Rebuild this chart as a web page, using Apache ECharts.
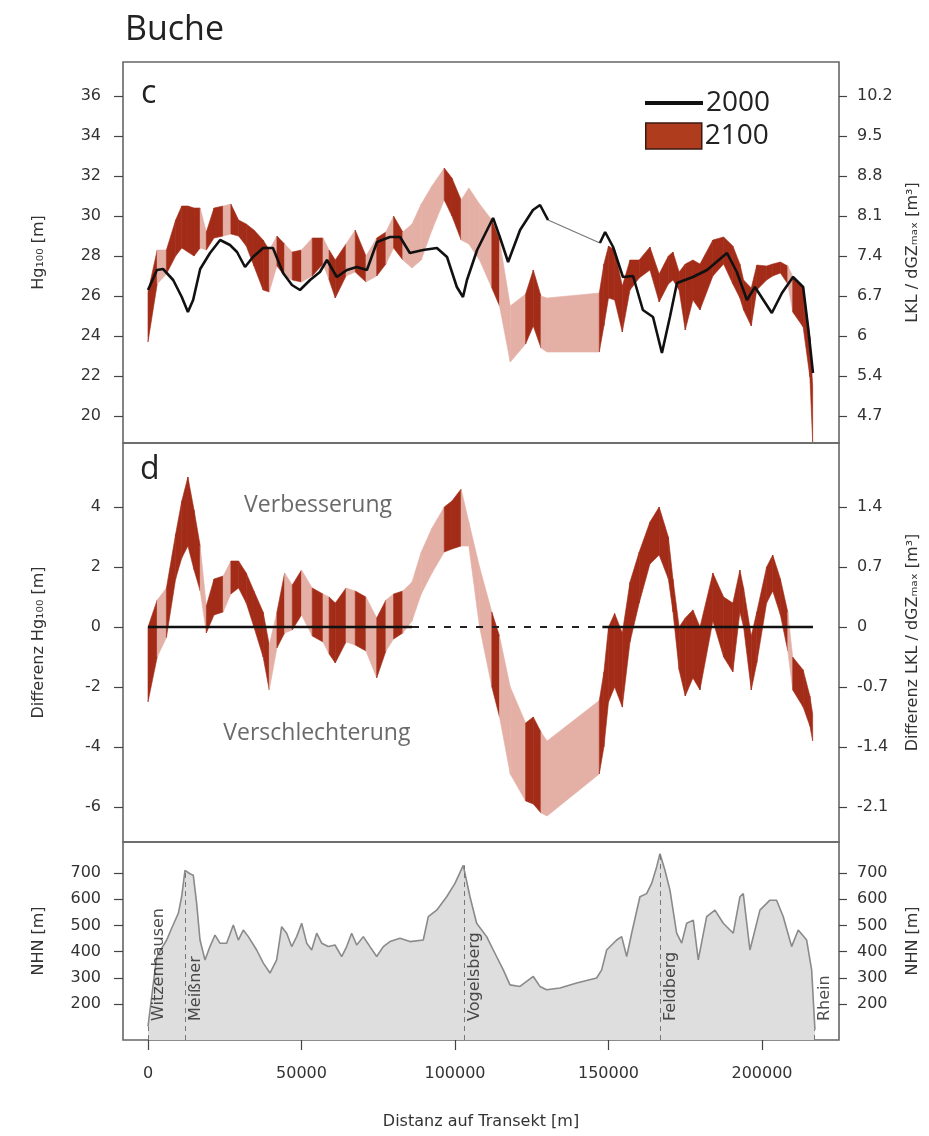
<!DOCTYPE html>
<html>
<head>
<meta charset="utf-8">
<script src="https://cdn.jsdelivr.net/npm/echarts@6.0.0/dist/echarts.min.js"></script>
<style>
html, body { margin: 0; padding: 0; background: #fff; }
#main { width: 929px; height: 1136px; }
</style>
</head>
<body>
<div id="main"></div>
<script>
// Transekt Buche: Hg100 2000 vs 2100, Differenz, Höhenprofil

// x positions of the 2100 band (m along transect)
var bandX = [0, 3000, 6000, 9000, 11000, 13000, 15000, 17000, 19000, 21500,
  24500, 27000, 29500, 32000, 34500, 37500, 39500, 42000, 44500, 47000,
  50000, 53500, 57000, 59000, 61000, 64500, 67500, 71000, 74500, 77500,
  80000, 83000, 86000, 89000, 92500, 96500, 99000, 102000, 104500, 108000,
  112000, 114500, 118000, 123000, 125500, 128000, 130000, 147000, 148500, 150000,
  152000, 154500, 157000, 160000, 163500, 166500, 169500, 171000, 173000, 175000,
  177500, 179800, 184000, 187500, 190500, 192800, 194000, 196500, 198300, 201500,
  203500, 206000, 208400, 210000, 213400, 215600, 216500];
// 1 = dark segment, 0 = light segment (segment starts at bandX[i])
var bandDark = [1, 0, 1, 1, 1, 1, 1, 0, 1, 1,
  0, 1, 1, 1, 1, 1, 0, 1, 0, 1,
  0, 1, 0, 1, 1, 0, 1, 0, 1, 0,
  1, 0, 0, 0, 0, 1, 1, 0, 0, 0,
  1, 0, 0, 1, 1, 0, 0, 1, 1, 1,
  1, 1, 1, 1, 1, 1, 1, 1, 1, 1,
  1, 1, 1, 1, 1, 1, 1, 1, 1, 1,
  1, 1, 0, 1, 1, 1, 1];
// panel c: Hg100 2100 range
var cLow = [23.7, 26.6, 27.1, 28.0, 28.4, 28.2, 28.0, 28.4, 28.3, 28.9,
  29.0, 29.1, 29.0, 28.5, 27.5, 26.3, 26.2, 27.5, 27.0, 26.8,
  26.7, 27.0, 27.6, 26.8, 25.9, 27.0, 27.2, 26.7, 27.0, 27.6,
  28.4, 27.8, 27.4, 27.8, 29.3, 30.8, 30.0, 28.8, 28.6, 27.8,
  26.4, 25.5, 22.7, 23.6, 24.5, 23.4, 23.2, 23.2, 24.5, 25.9,
  25.8, 24.2, 26.3, 26.9, 27.3, 25.7, 26.6, 26.8, 26.3, 24.3,
  25.8, 25.3, 27.0, 27.6, 26.6, 25.9, 25.3, 24.5, 26.3, 26.8,
  27.0, 27.15, 26.6, 25.2, 24.45, 21.95, 18.7];
var cHigh = [26.2, 28.3, 28.3, 29.8, 30.5, 30.5, 30.4, 30.4, 29.2, 30.4,
  30.5, 30.6, 29.8, 29.6, 29.3, 28.8, 28.3, 29.0, 28.6, 28.2,
  28.3, 28.9, 28.9, 28.3, 27.8, 28.6, 29.3, 28.0, 28.9, 29.2,
  30.0, 29.2, 29.6, 30.6, 31.5, 32.4, 31.9, 30.8, 31.4, 30.6,
  29.8, 28.8, 25.5, 26.1, 27.3, 26.0, 25.9, 26.15, 27.6, 28.5,
  28.3, 26.5, 27.8, 27.8, 28.45, 27.1, 28.0, 28.2, 27.2, 27.6,
  27.8, 27.6, 28.8, 28.95, 28.5, 27.6, 26.8, 26.4, 27.55, 27.5,
  27.6, 27.7, 27.5, 27.0, 26.45, 23.95, 21.5];
// panel d: Differenz 2100 - 2000
var dLow = [-2.5, -1.0, -0.35, 1.6, 2.3, 2.7, 1.9, 1.2, -0.2, 0.4,
  0.5, 1.1, 1.3, 0.8, 0.0, -1.0, -2.1, -0.7, -0.2, -0.1,
  0.4, -0.3, -0.5, -0.9, -1.2, -0.5, -0.6, -0.8, -1.7, -0.8,
  -0.4, -0.2, 0.2, 1.1, 1.8, 2.5, 2.6, 2.7, 2.7, 0.0,
  -2.0, -3.0, -4.9, -5.8, -5.9, -6.2, -6.3, -4.9, -4.0, -2.5,
  -2.0, -2.67, -0.5, 0.8, 2.1, 2.4, 1.6, 0.5, -1.43, -2.3,
  -1.7, -2.1, 0.2, -1.0, -1.5, 0.5, 0.0, -2.1, -1.2, 0.8,
  1.2, 0.4, -0.8, -2.1, -2.67, -3.3, -3.8];
var dHigh = [0.0, 0.9, 1.3, 3.1, 4.2, 5.0, 3.9, 2.7, 0.7, 1.6,
  1.7, 2.2, 2.2, 1.8, 1.2, 0.5, -0.6, 0.5, 1.8, 1.4,
  1.9, 1.3, 1.1, 1.0, 0.8, 1.3, 1.2, 1.0, 0.3, 0.9,
  1.1, 1.2, 1.5, 2.5, 3.3, 4.0, 4.2, 4.6, 3.5, 2.0,
  0.5, -0.3, -2.0, -3.2, -3.0, -3.5, -3.8, -2.45, -1.5, 0.0,
  0.45, -0.2, 1.5, 2.5, 3.5, 4.0, 3.0, 1.6, 0.0, 0.3,
  0.57, 0.0, 1.8, 1.0, 0.8, 1.9, 1.3, -0.3, 0.5, 2.0,
  2.4, 1.6, 0.5, -1.0, -1.43, -2.3, -2.9];

// panel c: Hg100 2000 (null = gap)
var line2000X = [0, 2900, 4900, 8200, 11000, 13000, 14700, 17000, 20200, 23500,
  26700, 29000, 31600, 34200, 37500, 40700, 44000, 46900, 49500, 52800,
  56000, 58300, 61500, 64800, 68000, 71300, 74600, 78800, 82100, 85300,
  89600, 94100, 97400, 100600, 102600, 103900, 107200, 112400, 114600, 117300,
  121200, 125400, 127700, 130300, 138000, 147200, 148900, 151500, 154700, 158000,
  161200, 164500, 167400, 170000, 172300, 177500, 182100, 188600, 191800, 195100,
  197700, 203200, 206500, 210100, 213400, 215000, 216600];
var line2000Y = [26.3, 27.3, 27.35, 26.8, 25.95, 25.2, 25.8, 27.35, 28.15, 28.8,
  28.55, 28.2, 27.45, 27.95, 28.4, 28.4, 27.15, 26.55, 26.3, 26.8,
  27.2, 27.8, 26.95, 27.3, 27.45, 27.3, 28.7, 28.95, 28.95, 28.15,
  28.3, 28.4, 27.95, 26.45, 25.95, 26.8, 28.3, 29.9, 28.95, 27.7,
  29.3, 30.3, 30.55, 29.8, null, 28.65, 29.2, 28.45, 26.95, 27.0,
  25.3, 24.95, 23.15, 24.95, 26.65, 26.95, 27.3, 28.15, 27.2, 25.8,
  26.45, 25.15, 26.15, 26.95, 26.45, 24.45, 22.15];
var gapX = [130300, 147200];
var gapY = [29.8, 28.65];

// panel d: reference line at 0
var zeroSolidX = [0, 86000, 117000, 148000, 216600];
var zeroSolidY = [0, 0, null, 0, 0];
var zeroDashX = [86000, 148000];
var zeroDashY = [0, 0];

// panel e: elevation profile (m NHN)
var elevX = [0, 2830, 6080, 7710, 9880, 10960, 12050, 13680, 14760, 15850,
  16940, 18560, 20190, 21820, 23450, 25620, 27790, 29420, 31050, 32680,
  35400, 37570, 39740, 41910, 43540, 45170, 46800, 48430, 50060, 51690,
  53320, 54950, 56580, 58740, 60910, 63090, 64720, 66340, 67970, 70140,
  72310, 74490, 76640, 78820, 82080, 85330, 89670, 91300, 94030, 97290,
  99990, 102690, 104880, 107050, 110310, 112470, 115730, 117910, 121160, 125500,
  127670, 129840, 134190, 139620, 146140, 147770, 149400, 152660, 154290, 155920,
  157540, 160240, 162420, 164050, 165680, 166760, 168390, 170020, 172200, 173830,
  175460, 177610, 179240, 181970, 184670, 187380, 190640, 192810, 193900, 196070,
  199330, 202580, 204760, 206930, 209650, 211810, 214540, 216170, 217240];
var elevY = [115, 381, 444, 489, 546, 609, 710, 697, 691, 584,
  444, 368, 419, 463, 432, 432, 501, 444, 482, 457,
  406, 356, 318, 368, 495, 470, 419, 457, 508, 432,
  406, 470, 432, 419, 425, 381, 419, 470, 425, 457,
  419, 381, 419, 438, 451, 438, 444, 533, 558, 609,
  660, 729, 609, 508, 457, 406, 330, 273, 267, 305,
  267, 254, 261, 280, 299, 330, 406, 444, 457, 381,
  470, 609, 621, 660, 723, 773, 710, 634, 470, 432,
  508, 520, 368, 533, 558, 508, 470, 609, 621, 406,
  558, 596, 596, 533, 419, 482, 444, 330, 102];

var placeNames = ['Witzenhausen', 'Meißner', 'Vogelsberg', 'Feldberg', 'Rhein'];
var placeX = [0, 12000, 103000, 166800, 216900];
var placeElev = [115, 710, 729, 773, 102];

var noteText = ['Verbesserung', 'Verschlechterung'];
var noteX = [55400, 55000];
var noteY = [4.05, -3.55];

// ticks
var xTicks = [0, 50000, 100000, 150000, 200000];
var cTicks = [20, 22, 24, 26, 28, 30, 32, 34, 36];
var cRightLabels = ['4.7', '5.4', '6', '6.7', '7.4', '8.1', '8.8', '9.5', '10.2'];
var dTicks = [-6, -4, -2, 0, 2, 4];
var dRightLabels = ['-2.1', '-1.4', '-0.7', '0', '0.7', '1.4'];
var eTicks = [200, 300, 400, 500, 600, 700];

var DARK = '#a22c17';
var LIGHT = '#e4b0a6';
var FONT = 'DejaVu Sans';
var X_MIN = -8143, X_MAX = 225081;

function pairs(xs, ys) {
  var d = [];
  for (var i = 0; i < xs.length; i++) {
    d.push([xs[i], ys[i] === null ? '-' : ys[i]]);
  }
  return d;
}

function bandSegments(lo, hi) {
  var d = [];
  for (var i = 0; i < bandX.length - 1; i++) {
    d.push([bandX[i], lo[i], hi[i], bandX[i + 1], lo[i + 1], hi[i + 1], bandDark[i]]);
  }
  return d;
}

function renderBand(params, api) {
  var a = api.coord([api.value(0), api.value(1)]);
  var b = api.coord([api.value(3), api.value(4)]);
  var c = api.coord([api.value(3), api.value(5)]);
  var d = api.coord([api.value(0), api.value(2)]);
  var col = api.value(6) ? DARK : LIGHT;
  return {
    type: 'polygon',
    shape: { points: [a, b, c, d] },
    style: { fill: col, stroke: col, lineWidth: 0.6 }
  };
}

function yAxisLeft(grid, min, max, ticks, name) {
  return {
    type: 'value', gridIndex: grid, position: 'left', min: min, max: max,
    axisLine: { show: false, onZero: false },
    axisTick: { show: true, length: 9, customValues: ticks, lineStyle: { color: '#444', width: 1.2 } },
    axisLabel: { customValues: ticks, margin: 22, fontSize: 16, fontFamily: FONT, color: '#333' },
    splitLine: { show: false },
    name: name, nameLocation: 'middle', nameGap: 76, nameRotate: 90,
    nameTextStyle: { fontSize: 16, fontFamily: FONT, color: '#333' }
  };
}

function yAxisRight(grid, min, max, ticks, labels, name) {
  return {
    type: 'value', gridIndex: grid, position: 'right', min: min, max: max,
    axisLine: { show: false, onZero: false },
    axisTick: { show: true, length: 8, customValues: ticks, lineStyle: { color: '#444', width: 1.2 } },
    axisLabel: {
      customValues: ticks, margin: 18, fontSize: 16, fontFamily: FONT, color: '#333',
      formatter: function (v) { return labels ? labels[ticks.indexOf(v)] : String(v); }
    },
    splitLine: { show: false },
    name: name, nameLocation: 'middle', nameGap: 66, nameRotate: 90,
    nameTextStyle: { fontSize: 16, fontFamily: FONT, color: '#333' }
  };
}

var chart = echarts.init(document.getElementById('main'), null, { renderer: 'canvas' });

var gridBase = { left: 123, right: 90, show: true, borderColor: '#666', borderWidth: 1.6, backgroundColor: 'transparent' };

var option = {
  animation: false,
  backgroundColor: '#fff',
  title: [
    { text: 'Buche', left: 120, top: 8, textStyle: { fontFamily: 'Open Sans', fontSize: 34, fontWeight: 'normal', color: '#222' } },
    { text: 'c', left: 136, top: 73, textStyle: { fontFamily: 'Open Sans', fontSize: 32, fontWeight: 'normal', color: '#222' } },
    { text: 'd', left: 135, top: 449, textStyle: { fontFamily: 'Open Sans', fontSize: 32, fontWeight: 'normal', color: '#222' } }
  ],
  legend: [
    {
      data: [{ name: '2000', icon: 'path://M0,0L60,0L60,4L0,4Z' }],
      left: 640, top: 84, itemWidth: 58, itemHeight: 4, itemGap: 0, selectedMode: false,
      textStyle: { fontFamily: 'Open Sans', fontSize: 28, color: '#222', padding: [0, 0, 0, -2] }
    },
    {
      data: [{ name: '2100', icon: 'rect', itemStyle: { color: '#b03c1e', borderColor: '#3a1a10', borderWidth: 1.5 } }],
      left: 640, top: 117, itemWidth: 56, itemHeight: 26, itemGap: 0, selectedMode: false,
      textStyle: { fontFamily: 'Open Sans', fontSize: 28, color: '#222', padding: [0, 0, 0, -2] }
    }
  ],
  grid: [
    Object.assign({}, gridBase, { top: 62, height: 381 }),
    Object.assign({}, gridBase, { top: 443, height: 399 }),
    Object.assign({}, gridBase, { top: 842, height: 198 })
  ],
  xAxis: [
    { type: 'value', gridIndex: 0, min: X_MIN, max: X_MAX, show: false },
    { type: 'value', gridIndex: 1, min: X_MIN, max: X_MAX, show: false },
    {
      type: 'value', gridIndex: 2, min: X_MIN, max: X_MAX,
      axisLine: { show: false, onZero: false },
      axisTick: { show: true, length: 10, customValues: xTicks, lineStyle: { color: '#444', width: 1.2 } },
      axisLabel: {
        customValues: xTicks, margin: 26, fontSize: 16, fontFamily: FONT, color: '#333',
        formatter: function (v) { return String(v); }
      },
      splitLine: { show: false },
      name: 'Distanz auf Transekt [m]', nameLocation: 'middle', nameGap: 74,
      nameTextStyle: { fontSize: 16, fontFamily: FONT, color: '#333' }
    }
  ],
  yAxis: [
    yAxisLeft(0, 18.65, 37.7, cTicks, 'Hg₁₀₀ [m]'),
    yAxisRight(0, 18.65, 37.7, cTicks, cRightLabels, 'LKL / dGZₘₐₓ [m³]'),
    yAxisLeft(1, -7.167, 6.133, dTicks, 'Differenz Hg₁₀₀ [m]'),
    yAxisRight(1, -7.167, 6.133, dTicks, dRightLabels, 'Differenz LKL / dGZₘₐₓ [m³]'),
    yAxisLeft(2, 62.6, 818, eTicks, 'NHN [m]'),
    yAxisRight(2, 62.6, 818, eTicks, null, 'NHN [m]')
  ],
  series: [
    {
      name: '2100', type: 'custom', xAxisIndex: 0, yAxisIndex: 0,
      itemStyle: { color: '#b03c1e' },
      renderItem: renderBand, data: bandSegments(cLow, cHigh),
      encode: { x: [0, 3], y: [1, 2, 4, 5] }, z: 2, silent: true
    },
    {
      name: '2000', type: 'line', xAxisIndex: 0, yAxisIndex: 0,
      data: pairs(line2000X, line2000Y), showSymbol: false, connectNulls: false,
      itemStyle: { color: '#111' }, lineStyle: { color: '#111', width: 2.6 }, z: 4, silent: true
    },
    {
      name: 'gap2000', type: 'line', xAxisIndex: 0, yAxisIndex: 0,
      data: pairs(gapX, gapY), showSymbol: false,
      lineStyle: { color: '#777', width: 1.2 }, z: 3, silent: true
    },
    {
      name: 'diff', type: 'custom', xAxisIndex: 1, yAxisIndex: 2,
      renderItem: renderBand, data: bandSegments(dLow, dHigh),
      encode: { x: [0, 3], y: [1, 2, 4, 5] }, z: 2, silent: true
    },
    {
      name: 'zero', type: 'line', xAxisIndex: 1, yAxisIndex: 2,
      data: pairs(zeroSolidX, zeroSolidY), showSymbol: false, connectNulls: false,
      lineStyle: { color: '#111', width: 2.6 }, z: 4, silent: true
    },
    {
      name: 'zeroDash', type: 'line', xAxisIndex: 1, yAxisIndex: 2,
      data: pairs(zeroDashX, zeroDashY), showSymbol: false,
      lineStyle: { color: '#222', width: 2, type: [7, 9] }, z: 4, silent: true
    },
    {
      name: 'notes', type: 'scatter', xAxisIndex: 1, yAxisIndex: 2, symbolSize: 0, silent: true, z: 6,
      data: noteText.map(function (t, i) { return { name: t, value: [noteX[i], noteY[i]] }; }),
      label: {
        show: true, position: 'inside', formatter: '{b}',
        fontFamily: 'Open Sans', fontSize: 23, color: '#444'
      }
    },
    {
      name: 'NHN', type: 'line', xAxisIndex: 2, yAxisIndex: 4,
      data: pairs(elevX, elevY), showSymbol: false, z: 2,
      lineStyle: { color: '#8a8a8a', width: 1.6 },
      areaStyle: { color: '#dedede', opacity: 1, origin: 'start' }, silent: true,
      markLine: {
        silent: true, symbol: 'none', animation: false,
        lineStyle: { type: [5, 4], color: '#777', width: 1 },
        label: { show: false },
        data: placeX.map(function (x, i) { return [{ coord: [x, 62.6] }, { coord: [x, placeElev[i]] }]; })
      }
    },
    {
      name: 'places', type: 'scatter', xAxisIndex: 2, yAxisIndex: 4, symbolSize: 0, silent: true,
      z: 10, zlevel: 1, clip: false,
      data: placeNames.map(function (t, i) { return { name: t, value: [placeX[i], 135] }; }),
      label: {
        show: true, position: [11, 0], formatter: '{b}', rotate: 90,
        align: 'left', verticalAlign: 'middle',
        fontFamily: FONT, fontSize: 16, color: '#222'
      },
      labelLayout: { hideOverlap: false }
    }
  ]
};

chart.setOption(option);
</script>
</body>
</html>
